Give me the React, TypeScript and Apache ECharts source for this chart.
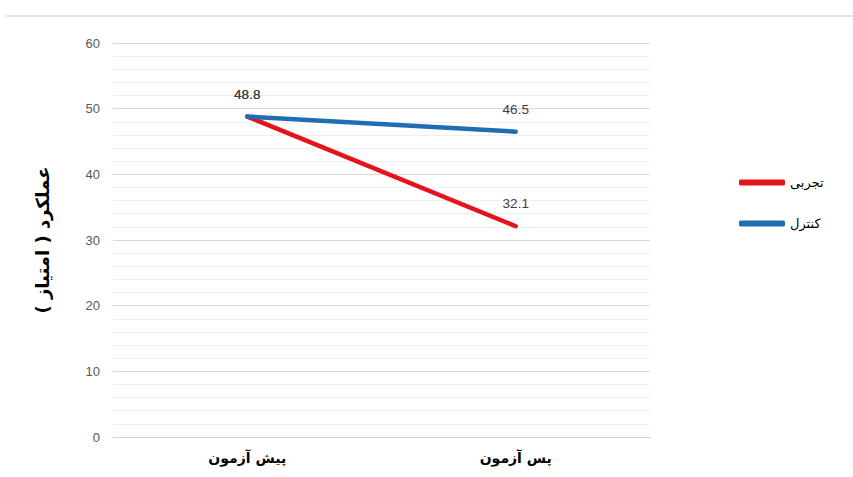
import React, { useEffect, useRef } from "react";
import * as echarts from "echarts";

const categories = ["پیش آزمون", "پس آزمون"];
const experimentalValues = [48.8, 32.1];
const controlValues = [48.8, 46.5];
const seriesNames = ["تجربی", "کنترل"];
const yAxisName = "عملکرد ( امتیاز )";

export default function App() {
  const ref = useRef<HTMLDivElement>(null);
  useEffect(() => {
    if (!ref.current) return;
    const chart = echarts.init(ref.current, undefined, { renderer: "svg" });
    const labelStyle = {
      show: true,
      position: "top" as const,
      distance: 15,
      color: "#404040",
      fontSize: 13.5,
      fontFamily: "Liberation Sans, Arial, sans-serif",
    };
    chart.setOption({
      animation: false,
      backgroundColor: "#ffffff",
      graphic: [
        {
          type: "line",
          shape: { x1: 6, y1: 16, x2: 853, y2: 16 },
          style: { stroke: "#d9d9d9", lineWidth: 1.5 },
        },
      ],
      grid: { left: 113, right: 203, top: 43, bottom: 40, containLabel: false },
      legend: {
        orient: "vertical",
        left: 734,
        top: 171,
        itemGap: 28,
        itemWidth: 46,
        itemHeight: 6,
        icon: "roundRect",
        textStyle: { color: "#000", fontSize: 13, fontFamily: "DejaVu Sans, sans-serif" },
        data: seriesNames,
      },
      xAxis: {
        type: "category",
        data: categories,
        boundaryGap: true,
        axisLine: { show: true, lineStyle: { color: "#d0d0d0", width: 1 } },
        axisTick: { show: false },
        axisLabel: {
          color: "#000",
          fontSize: 14,
          fontWeight: "bold",
          margin: 14,
          fontFamily: "DejaVu Sans, sans-serif",
        },
      },
      yAxis: {
        type: "value",
        min: 0,
        max: 60,
        interval: 10,
        name: yAxisName,
        nameLocation: "middle",
        nameGap: 62,
        nameRotate: 90,
        nameTextStyle: {
          color: "#000",
          fontSize: 18,
          fontWeight: "bold",
          fontFamily: "DejaVu Sans, sans-serif",
        },
        axisLine: { show: false },
        axisTick: { show: false },
        axisLabel: {
          color: "#595959",
          fontSize: 13,
          margin: 13,
          fontFamily: "Liberation Sans, Arial, sans-serif",
        },
        splitLine: { show: true, lineStyle: { color: "#d9d9d9", width: 1 } },
        minorTick: { show: false, splitNumber: 5 },
        minorSplitLine: { show: true, lineStyle: { color: "#efefef", width: 1 } },
      },
      series: [
        {
          name: seriesNames[0],
          type: "line",
          data: experimentalValues,
          symbol: "circle",
          symbolSize: 1,
          showSymbol: true,
          lineStyle: { color: "#E3141C", width: 4.5, cap: "round" },
          itemStyle: { color: "#E3141C" },
          label: labelStyle,
          z: 2,
        },
        {
          name: seriesNames[1],
          type: "line",
          data: controlValues,
          symbol: "circle",
          symbolSize: 1,
          showSymbol: true,
          lineStyle: { color: "#1F6EB3", width: 4.5, cap: "round" },
          itemStyle: { color: "#1F6EB3" },
          label: labelStyle,
          z: 3,
        },
      ],
    });
    return () => chart.dispose();
  }, []);
  return (
    <div
      ref={ref}
      style={{ position: "fixed", left: 0, top: 0, width: 853, height: 477 }}
    />
  );
}
